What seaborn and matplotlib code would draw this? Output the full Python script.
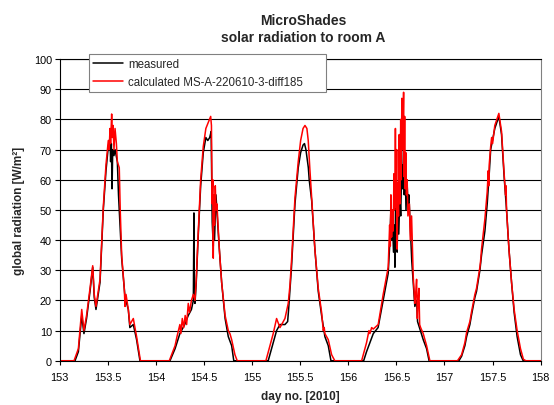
'''MicroShades - measured vs calculated solar radiation to room A'''
import pandas as pd
import matplotlib
matplotlib.use('Agg')
import matplotlib.pyplot as plt
import seaborn as sns

# measured (black) - day number and radiation in W/m2
day_measured = [
    153.00, 153.16, 153.195, 153.23, 153.253, 153.28, 153.316, 153.344, 153.36, 153.378,
    153.42, 153.454, 153.482, 153.506, 153.524, 153.53, 153.538, 153.545, 153.552, 153.565,
    153.576, 153.60, 153.612, 153.62, 153.645, 153.68, 153.714, 153.73, 153.766, 153.80,
    153.835, 154.147,
    154.20, 154.25, 154.30, 154.337, 154.37, 154.39, 154.396, 154.40, 154.407, 154.42,
    154.44, 154.466, 154.493, 154.52, 154.54, 154.56, 154.575, 154.58, 154.586, 154.597,
    154.605, 154.61, 154.625, 154.64, 154.66, 154.684, 154.72, 154.753, 154.788, 154.81,
    155.168,
    155.22, 155.255, 155.29, 155.342, 155.37, 155.38, 155.41, 155.446, 155.48, 155.505,
    155.53, 155.545, 155.56, 155.585, 155.594, 155.62, 155.653, 155.688, 155.723, 155.757,
    155.792, 155.82, 156.16,
    156.19, 156.225, 156.26, 156.31, 156.363, 156.398, 156.415, 156.43, 156.443, 156.45,
    156.46, 156.47, 156.478, 156.485, 156.495, 156.50, 156.508, 156.515, 156.525, 156.535,
    156.545, 156.555, 156.565, 156.575, 156.582, 156.59, 156.60, 156.61, 156.62, 156.63,
    156.645, 156.66, 156.675, 156.692, 156.71, 156.72, 156.75, 156.779, 156.814, 156.84,
    157.15,
    157.178, 157.212, 157.23, 157.264, 157.28, 157.316, 157.333, 157.368, 157.385, 157.42,
    157.444, 157.465, 157.48, 157.523, 157.565, 157.593, 157.62, 157.645, 157.67, 157.697,
    157.724, 157.755, 157.79, 157.818, 158.00,
]
rad_measured = [
    0, 0, 3, 15, 9, 14, 23, 31, 21, 17,
    26, 50, 63, 71, 74, 66, 72, 57, 70, 68,
    70, 66, 55, 50, 34, 21, 17, 11, 12, 7,
    0, 0,
    4, 9, 12, 15, 17, 20, 49, 20, 19, 26,
    41, 58, 69, 74, 73, 74, 76, 62, 46, 38,
    52, 40, 55, 47, 37, 26, 14, 8, 5, 0,
    0,
    6, 10, 12, 12, 13, 17, 31, 52, 64, 69,
    71.5, 72, 70, 64, 60, 53, 37, 23, 15, 8,
    5, 0, 0,
    3, 6, 9, 11, 20, 26, 29, 38, 50, 40,
    46, 36, 45, 31, 60, 44, 36, 50, 42, 55,
    48, 65, 57, 72, 55, 66, 50, 60, 52, 55,
    44, 33, 26, 18, 20, 13, 10, 7, 4, 0,
    0,
    1.5, 5, 8, 12, 15, 21, 23, 30, 35, 43,
    52, 62, 70, 77, 81, 75, 61, 50, 37, 26,
    16, 8, 2, 0, 0,
]

# calculated MS-A-220610-3-diff185 (red)
day_calc = [
    153.00, 153.15, 153.195, 153.23, 153.253, 153.28, 153.316, 153.344, 153.36, 153.378,
    153.42, 153.454, 153.482, 153.506, 153.515, 153.524, 153.53, 153.541, 153.548, 153.556,
    153.565, 153.576, 153.59, 153.60, 153.62, 153.63, 153.645, 153.672, 153.68, 153.69,
    153.714, 153.73, 153.766, 153.80, 153.84, 154.14,
    154.20, 154.22, 154.25, 154.26, 154.275, 154.29, 154.305, 154.32, 154.337, 154.35,
    154.37, 154.39, 154.407, 154.42, 154.44, 154.466, 154.493, 154.52, 154.545, 154.57,
    154.578, 154.585, 154.592, 154.597, 154.603, 154.61, 154.618, 154.625, 154.635, 154.66,
    154.684, 154.72, 154.753, 154.77, 154.788, 154.822, 154.846, 155.144,
    155.22, 155.255, 155.29, 155.342, 155.376, 155.394, 155.41, 155.446, 155.48, 155.505,
    155.53, 155.55, 155.57, 155.584, 155.60, 155.62, 155.653, 155.688, 155.723, 155.74,
    155.75, 155.757, 155.792, 155.827, 155.86, 156.139,
    156.19, 156.215, 156.225, 156.243, 156.26, 156.311, 156.363, 156.398, 156.415, 156.43,
    156.437, 156.443, 156.45, 156.46, 156.467, 156.475, 156.482, 156.49, 156.497, 156.503,
    156.508, 156.515, 156.522, 156.53, 156.537, 156.545, 156.551, 156.557, 156.562, 156.568,
    156.575, 156.58, 156.586, 156.592, 156.598, 156.605, 156.612, 156.62, 156.635, 156.645,
    156.658, 156.675, 156.692, 156.70, 156.71, 156.718, 156.726, 156.734, 156.742, 156.752,
    156.779, 156.814, 156.848, 157.135,
    157.178, 157.212, 157.23, 157.264, 157.28, 157.316, 157.333, 157.368, 157.375, 157.385,
    157.42, 157.444, 157.455, 157.46, 157.465, 157.48, 157.49, 157.50, 157.523, 157.565,
    157.593, 157.62, 157.635, 157.64, 157.645, 157.67, 157.697, 157.724, 157.755, 157.79,
    157.82, 157.845, 158.00,
]
rad_calc = [
    0, 0, 4, 17, 10, 15, 24, 31.5, 22, 18,
    27, 51, 65, 73, 70, 77, 72, 81.8, 74, 78,
    70, 77, 72, 66, 64, 50, 35, 24, 18, 22,
    17, 12, 14, 8, 0, 0,
    5, 8, 12, 9, 14, 11, 15, 12, 19, 16,
    20, 22, 20, 27, 42, 60, 71, 77, 79, 81,
    78, 52, 60, 34, 55, 45, 58, 50, 52, 37,
    26, 15, 10, 9, 7, 2, 0, 0,
    9, 14, 11, 14, 19, 25, 33, 54, 66, 73,
    77, 78, 77, 73, 64, 54, 37, 24, 16, 10,
    11, 9, 7, 2, 0, 0,
    6, 10, 9, 11, 10.5, 12, 22, 28, 31, 45,
    38, 55, 41, 50, 43, 62, 50, 77, 51, 70,
    37, 59, 48, 75, 52, 80, 60, 87, 70, 75,
    89, 61, 81, 57, 69, 55, 60, 48, 52, 40,
    48, 28, 19, 22, 27, 14, 20, 24, 12, 11,
    9, 5, 0, 0,
    2, 6, 9.4, 13, 16, 22, 24, 31, 33, 37,
    47, 56, 63, 58, 65, 71, 74, 72, 78, 82,
    76, 62, 55, 58, 50, 37, 26, 17, 10, 4,
    0.5, 0, 0,
]

label_meas = 'measured'
label_calc = 'calculated MS-A-220610-3-diff185'
x_ticks = [153, 153.5, 154, 154.5, 155, 155.5, 156, 156.5, 157, 157.5, 158]
x_tick_labels = ['153', '153.5', '154', '154.5', '155', '155.5',
                 '156', '156.5', '157', '157.5', '158']

df = pd.concat([
    pd.DataFrame({'day': day_measured, 'rad': rad_measured, 'series': label_meas}),
    pd.DataFrame({'day': day_calc, 'rad': rad_calc, 'series': label_calc}),
], ignore_index=True)

sns.set_style('white')
plt.rcParams['font.family'] = ['Liberation Sans', 'DejaVu Sans']

fig, ax = plt.subplots(figsize=(5.54, 4.06), dpi=100)
fig.subplots_adjust(left=0.1076, right=0.976, top=0.852, bottom=0.109)

sns.lineplot(data=df, x='day', y='rad', hue='series', estimator=None, sort=False,
             palette={label_meas: 'black', label_calc: 'red'}, linewidth=1.1, ax=ax)

ax.set_xlim(153, 158)
ax.set_ylim(0, 100)
ax.set_xticks(x_ticks)
ax.set_xticklabels(x_tick_labels)
ax.set_yticks(range(0, 101, 10))
ax.yaxis.grid(True, color='black', linewidth=0.8)
ax.set_axisbelow(True)
ax.tick_params(axis='x', direction='out', length=3.1, width=0.8, pad=5,
               labelsize=7.8, colors='black', bottom=True)
ax.tick_params(axis='y', direction='out', length=3.6, width=0.8, pad=2,
               labelsize=7.8, colors='black', left=True)

for side in ['left', 'bottom', 'top']:
    ax.spines[side].set_color('black')
    ax.spines[side].set_linewidth(0.8)
ax.spines['right'].set_color('#808080')
ax.spines['right'].set_linewidth(0.8)

ax.set_xlabel('day no. [2010]', fontsize=8.5, fontweight='bold', labelpad=6)
ax.set_ylabel('global radiation [W/m²]', fontsize=8.5, fontweight='bold', labelpad=6)
ax.set_title('MicroShades\nsolar radiation to room A', fontsize=10, fontweight='bold',
             pad=13, linespacing=1.3, x=0.506)

leg = ax.legend(loc='upper left', bbox_to_anchor=(0.0617, 0.9, 0.492, 0.1166),
                mode='expand', fontsize=8.3, frameon=True, fancybox=False,
                handlelength=2.6, handletextpad=0.4, borderpad=0.35,
                labelspacing=0.5, borderaxespad=0)
leg.get_frame().set_edgecolor('#808080')
leg.get_frame().set_linewidth(0.8)
leg.get_frame().set_alpha(1)

plt.savefig('out.png', dpi=100)
